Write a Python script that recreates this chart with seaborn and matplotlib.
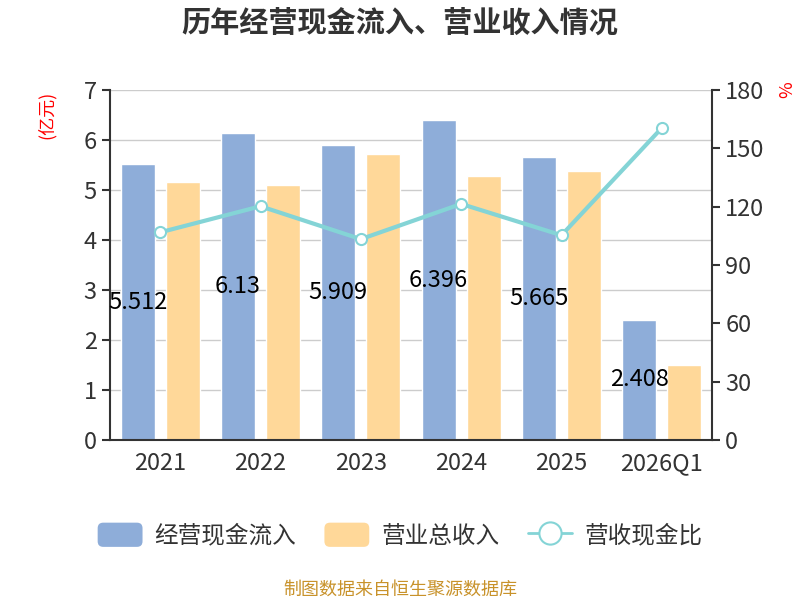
import matplotlib
matplotlib.use("Agg")
import matplotlib.pyplot as plt
import seaborn as sns
import pandas as pd
from matplotlib.patches import Patch, FancyBboxPatch
from matplotlib.lines import Line2D
from matplotlib.legend_handler import HandlerPatch

years = ["2021", "2022", "2023", "2024", "2025", "2026Q1"]
cash_inflow = [5.512, 6.13, 5.909, 6.396, 5.665, 2.408]
revenue = [5.16, 5.10, 5.72, 5.27, 5.38, 1.50]
ratio = [106.8, 120.2, 103.3, 121.4, 105.3, 160.5]

BLUE = "#8EADD9"
ORANGE = "#FFD899"
CYAN = "#84D4D6"
DARK = "#333333"

sns.set_theme(style="white")
plt.rcParams["font.family"] = ["Noto Sans CJK SC", "DejaVu Sans"]
plt.rcParams["axes.unicode_minus"] = False


class RoundHandler(HandlerPatch):
    # rounded rectangle legend keys
    def create_artists(self, legend, orig_handle, xdescent, ydescent,
                       width, height, fontsize, trans):
        p = FancyBboxPatch((-xdescent, -ydescent), width, height,
                           boxstyle="round,pad=0,rounding_size=4",
                           facecolor=orig_handle.get_facecolor(),
                           edgecolor="none", transform=trans)
        return [p]


df = pd.DataFrame({
    "year": years * 2,
    "value": cash_inflow + revenue,
    "series": ["经营现金流入"] * len(years) + ["营业总收入"] * len(years),
})

fig = plt.figure(figsize=(8, 6), dpi=100)
ax = fig.add_axes([0.1375, 0.2667, 0.7525, 0.5833])

sns.barplot(data=df, x="year", y="value", hue="series",
            palette=[BLUE, ORANGE], width=0.9, gap=0.245,
            ax=ax, legend=False, saturation=1)

ax.set_ylim(0, 7)
ax.set_yticks(range(0, 8))
ax.set_xlim(-0.5, len(years) - 0.5)
ax.yaxis.grid(True, color="#CCCCCC", linewidth=1)
ax.set_axisbelow(True)
ax.set_xlabel("")
ax.set_ylabel("")
for s in ["top", "right"]:
    ax.spines[s].set_visible(False)
for s in ["left", "bottom"]:
    ax.spines[s].set_color(DARK)
    ax.spines[s].set_linewidth(1.5)
ax.tick_params(axis="both", colors=DARK, labelsize=17, length=6, width=1.5,
               direction="out")
ax.tick_params(axis="x", pad=9)
ax.set_xticks([i - 0.5 for i in range(len(years) + 1)], minor=True)
ax.tick_params(axis="x", which="major", length=0)
ax.tick_params(axis="x", which="minor", length=6, width=1.5, colors=DARK)

# value labels on the blue bars
for i, v in enumerate(cash_inflow):
    ax.text(i - 0.225, v / 2, f"{v:g}", ha="center", va="center",
            fontsize=17, color="black")

ax2 = ax.twinx()
sns.lineplot(x=list(range(len(years))), y=ratio, ax=ax2, color=CYAN,
             linewidth=3, marker="o", markersize=8,
             markerfacecolor="white", markeredgecolor=CYAN,
             markeredgewidth=1.5)
ax2.set_ylim(0, 180)
ax2.set_yticks(range(0, 181, 30))
for s in ["top", "left", "bottom"]:
    ax2.spines[s].set_visible(False)
ax2.spines["right"].set_color(DARK)
ax2.spines["right"].set_linewidth(1.5)
ax2.tick_params(axis="y", colors=DARK, labelsize=17, length=6, width=1.5)
ax2.set_xlim(-0.5, len(years) - 0.5)

fig.text(0.5, 0.962, "历年经营现金流入、营业收入情况", ha="center", va="center",
         fontsize=21, fontweight="bold", color=DARK)
fig.text(0.058, 0.808, "(亿元)", rotation=90, ha="center", va="center",
         fontsize=13, color="red")
fig.text(0.984, 0.85, "%", rotation=90, ha="center", va="center",
         fontsize=13, color="red")

handles = [
    Patch(facecolor=BLUE, label="经营现金流入"),
    Patch(facecolor=ORANGE, label="营业总收入"),
    Line2D([0], [0], color=CYAN, linewidth=2, marker="o", markersize=16,
           markerfacecolor="white", markeredgecolor=CYAN, markeredgewidth=1.5,
           label="营收现金比"),
]
fig.legend(handles=handles, loc="center", bbox_to_anchor=(0.5, 0.108),
           ncol=3, frameon=False, fontsize=17, handlelength=1.9,
           handleheight=1.2, columnspacing=1.2, handletextpad=0.5,
           labelcolor=DARK, handler_map={Patch: RoundHandler()})

fig.text(0.5, 0.017, "制图数据来自恒生聚源数据库", ha="center", va="center",
         fontsize=13, color="#C8922A")

fig.savefig("out.png", dpi=100)
